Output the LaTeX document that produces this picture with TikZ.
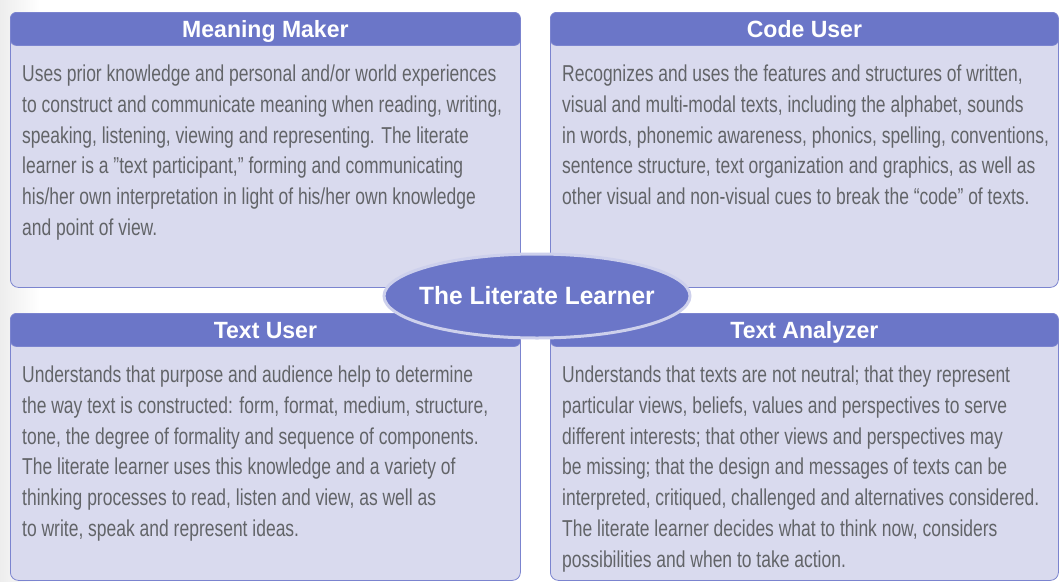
\documentclass[tikz,border=0pt]{standalone}
\usepackage{fontspec}
\setmainfont{Liberation Sans}[FakeStretch=0.76]
\newfontfamily\headfont{Liberation Sans}[FakeStretch=0.98]
\usetikzlibrary{shapes.geometric}
\definecolor{barblue}{HTML}{6B76C8}
\definecolor{bodyfill}{HTML}{D9DAEE}
\definecolor{edgeblue}{HTML}{7B84CF}
\definecolor{ringblue}{HTML}{CDD0EC}
\definecolor{textgray}{HTML}{626468}
\tikzset{
  panel/.style={draw=edgeblue, fill=bodyfill, line width=0.8pt, rounded corners=8pt,
    anchor=north west, inner sep=0pt},
  panelbar/.style={fill=barblue, draw=edgeblue, line width=0.8pt, rounded corners=6pt,
    anchor=north, minimum height=33pt, inner sep=0pt, text=white,
    text height=18pt, text depth=1pt,
    font=\headfont\bfseries\fontsize{23.5}{24}\selectfont},
  paneltext/.style={anchor=north west, inner sep=0pt, align=left, text=textgray,
    font=\fontsize{23}{30.7}\selectfont},
  hub/.style={ellipse, fill=barblue, draw=ringblue, line width=3pt, text=white,
    minimum width=306pt, minimum height=84pt, inner xsep=-11pt, inner ysep=0pt,
    font=\headfont\bfseries\fontsize{25}{30}\selectfont}
}
\begin{document}
\begin{tikzpicture}[x=1pt,y=-1pt]
  \useasboundingbox (0,0) rectangle (1060,581);
  \shade[left color=black!7, right color=white] (0,0) rectangle (40,581);
  % the four panels
  \node[panel, minimum width=510pt, minimum height=275pt] (mm) at (10,12) {};
  \node[panel, minimum width=508pt, minimum height=275pt] (cu) at (550,12) {};
  \node[panel, minimum width=510pt, minimum height=267pt] (tu) at (10,313) {};
  \node[panel, minimum width=508pt, minimum height=267pt] (ta) at (550,313) {};
  \node[panelbar, minimum width=510pt] (mmbar) at (mm.north) {Meaning Maker};
  \node[panelbar, minimum width=508pt] (cubar) at (cu.north) {Code User};
  \node[panelbar, minimum width=510pt] (tubar) at (tu.north) {Text User};
  \node[panelbar, minimum width=508pt] (tabar) at (ta.north) {Text Analyzer};
  \node[paneltext] (mmtext) at ([shift={(12,53)}]mm.north west)
    {Uses prior knowledge and personal and/or world experiences\\
     to construct and communicate meaning when reading, writing,\\
     speaking, listening, viewing and representing. The literate\\
     learner is a ”text participant,” forming and communicating\\
     his/her own interpretation in light of his/her own knowledge\\
     and point of view.};
  \node[paneltext] (cutext) at ([shift={(12,53)}]cu.north west)
    {Recognizes and uses the features and structures of written,\\
     visual and multi-modal texts, including the alphabet, sounds\\
     in words, phonemic awareness, phonics, spelling, conventions,\\
     sentence structure, text organization and graphics, as well as\\
     other visual and non-visual cues to break the “code” of texts.};
  \node[paneltext] (tutext) at ([shift={(12,53)}]tu.north west)
    {Understands that purpose and audience help to determine\\
     the way text is constructed: form, format, medium, structure,\\
     tone, the degree of formality and sequence of components.\\
     The literate learner uses this knowledge and a variety of\\
     thinking processes to read, listen and view, as well as\\
     to write, speak and represent ideas.};
  \node[paneltext] (tatext) at ([shift={(12,53)}]ta.north west)
    {Understands that texts are not neutral; that they represent\\
     particular views, beliefs, values and perspectives to serve\\
     different interests; that other views and perspectives may\\
     be missing; that the design and messages of texts can be\\
     interpreted, critiqued, challenged and alternatives considered.\\
     The literate learner decides what to think now, considers\\
     possibilities and when to take action.};
  % centre
  \node[hub] (learner) at (537,296) {The Literate Learner};
\end{tikzpicture}
\end{document}
